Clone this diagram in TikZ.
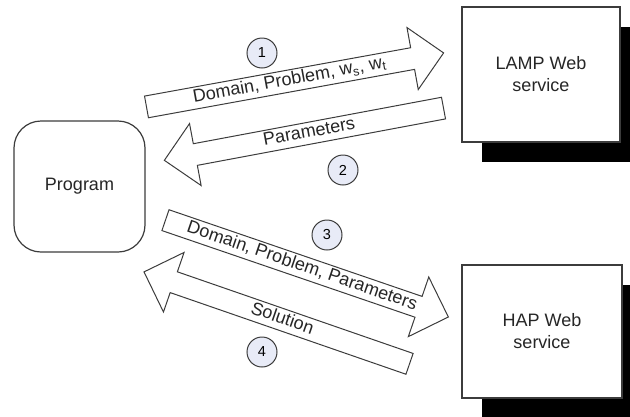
\documentclass[tikz,border=0pt]{standalone}
\usepackage{fontspec}
\setmainfont{Liberation Sans}
\usetikzlibrary{shapes.arrows, shadows}
\definecolor{numfill}{RGB}{232,235,247}
\definecolor{linegray}{RGB}{60,60,60}

\begin{document}
\begin{tikzpicture}[x=1pt, y=-1pt,
  box/.style={draw=linegray, line width=1.2pt, fill=white, align=center,
    text=black!85, font=\fontsize{18}{22}\selectfont},
  srv/.style={box, minimum width=158pt, minimum height=135pt,
    general shadow={fill=black, shadow xshift=20pt, shadow yshift=-20pt}},
  blk/.style={single arrow, draw=linegray, line width=1pt, fill=white,
    single arrow head extend=20.5pt, text height=12pt, text depth=3.5pt,
    inner ysep=2.75pt, inner xsep=0pt, text=black!85,
    font=\fontsize{18}{20}\selectfont},
  num/.style={circle, draw=linegray, line width=1pt, fill=numfill,
    minimum size=30pt, inner sep=0pt, font=\fontsize{14.5}{16}\selectfont}]

\clip (0,0) rectangle (630,416);

% Program and the two services
\node[box, rounded corners=27pt, minimum width=131pt, minimum height=131pt] (prog) at (79.5,186.5) {Program};
\node[srv] (lamp) at (541,74.5) {LAMP Web\\service};
\node[srv, minimum width=160pt, minimum height=133pt] (hap) at (542,331.5) {HAP Web\\service};

% Program <-> LAMP
\node[blk, rotate=10.3, minimum height=302pt, anchor=tail] (s1) at (146,107) {Domain, Problem, w\textsubscript{s}, w\textsubscript{t}};
\node[blk, rotate=10.6, shape border rotate=180, minimum height=284pt, anchor=tail] (s2) at (444,108) {Parameters};

% Program <-> HAP
\node[blk, rotate=-18.9, minimum height=299pt, anchor=tail] (s3) at (165,220) {Domain, Problem, Parameters};
\node[blk, rotate=-19.1, shape border rotate=180, minimum height=281pt, anchor=tail] (s4) at (410,364) {Solution};

% step numbers
\node[num] (n1) at (262,53) {1};
\node[num] (n2) at (343,170) {2};
\node[num] (n3) at (327,235) {3};
\node[num] (n4) at (262,352) {4};

\end{tikzpicture}
\end{document}
